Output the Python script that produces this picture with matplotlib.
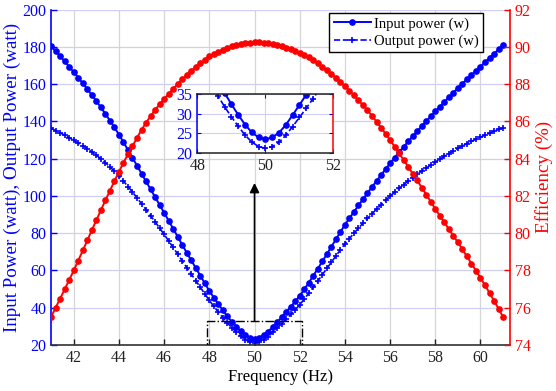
import numpy as np
import matplotlib
matplotlib.use("Agg")
import matplotlib.pyplot as plt
from matplotlib.patches import Rectangle

plt.rcParams['font.family'] = ['Liberation Serif', 'DejaVu Serif']
plt.rcParams['font.size'] = 11.5

# frequency sweep, 0.2 Hz steps
freq = np.round(np.arange(41.0, 61.0001, 0.2), 1)

input_power = [
    180.50, 177.80, 175.05, 172.25, 169.40, 166.50, 163.55, 160.50, 157.40, 154.25,
    151.00, 147.60, 144.10, 140.50, 136.80, 133.00, 128.90, 124.70, 120.50, 116.25,
    112.00, 107.80, 103.60, 99.40, 95.20, 91.00, 86.70, 82.40, 78.10, 73.80,
    69.50, 65.40, 61.30, 57.20, 53.10, 49.00, 45.40, 41.90, 38.50, 35.30,
    32.40, 29.70, 27.20, 25.20, 23.90, 23.40, 23.90, 25.10, 27.10, 29.60,
    32.20, 34.80, 37.60, 40.40, 43.30, 46.30, 49.80, 53.40, 57.10, 60.90,
    64.80, 68.75, 72.70, 76.65, 80.60, 84.50, 88.00, 91.45, 94.90, 98.25,
    101.50, 104.80, 108.05, 111.25, 114.40, 117.50, 120.55, 123.50, 126.40, 129.25,
    132.00, 134.75, 137.45, 140.10, 142.75, 145.40, 147.95, 150.50, 153.00, 155.50,
    158.00, 160.35, 162.70, 165.00, 167.25, 169.50, 171.80, 174.10, 176.40, 178.70,
    181.00,
]

output_power = [
    136.28, 135.13, 133.90, 132.62, 131.27, 129.87, 128.44, 126.91, 125.31, 123.65,
    121.86, 119.90, 117.82, 115.60, 113.27, 110.79, 107.99, 105.05, 102.04, 98.95,
    95.82, 92.63, 89.40, 86.10, 82.75, 79.35, 75.85, 72.31, 68.74, 65.14,
    61.51, 58.02, 54.51, 50.98, 47.43, 43.86, 40.69, 37.61, 34.60, 31.76,
    29.18, 26.77, 24.53, 22.73, 21.57, 21.12, 21.57, 22.65, 24.44, 26.68,
    29.01, 31.33, 33.82, 36.31, 38.88, 41.53, 44.61, 47.76, 50.98, 54.28,
    57.64, 61.02, 64.38, 67.72, 71.03, 74.28, 77.13, 79.93, 82.70, 85.35,
    87.90, 90.44, 92.91, 95.31, 97.63, 99.88, 102.05, 104.10, 106.09, 108.01,
    109.82, 111.61, 113.33, 114.98, 116.61, 118.21, 119.75, 121.27, 122.74, 124.18,
    125.61, 126.88, 128.13, 129.31, 130.44, 131.53, 132.63, 133.69, 134.72, 135.71,
    136.66,
]

efficiency = [
    75.50, 76.00, 76.49, 76.99, 77.49, 78.00, 78.53, 79.07, 79.61, 80.16,
    80.70, 81.23, 81.76, 82.28, 82.80, 83.30, 83.78, 84.24, 84.68, 85.12,
    85.55, 85.93, 86.29, 86.62, 86.92, 87.20, 87.48, 87.75, 88.01, 88.26,
    88.50, 88.72, 88.93, 89.13, 89.32, 89.50, 89.63, 89.75, 89.86, 89.96,
    90.05, 90.12, 90.17, 90.21, 90.24, 90.25, 90.25, 90.23, 90.20, 90.15,
    90.10, 90.03, 89.96, 89.88, 89.79, 89.70, 89.57, 89.44, 89.29, 89.13,
    88.95, 88.76, 88.56, 88.35, 88.13, 87.90, 87.65, 87.40, 87.14, 86.87,
    86.60, 86.30, 85.99, 85.67, 85.34, 85.00, 84.65, 84.29, 83.93, 83.57,
    83.20, 82.83, 82.45, 82.07, 81.69, 81.30, 80.94, 80.58, 80.22, 79.86,
    79.50, 79.13, 78.75, 78.37, 77.99, 77.60, 77.20, 76.79, 76.37, 75.94,
    75.50,
]

blue = '#0000ff'
red = '#ff0000'

fig = plt.figure(figsize=(5.56, 3.91), dpi=100)
ax = fig.add_axes([0.092, 0.118, 0.825, 0.857])
ax2 = ax.twinx()

# power curves (left axis)
l_in, = ax.plot(freq, input_power, '-o', color=blue, lw=1.4, ms=3.8,
                label='Input power (w)')
l_out, = ax.plot(freq, output_power, '--+', color=blue, lw=1.2, ms=4.5,
                 mew=1.2, label='Output power (w)')
ax.set_xlim(41, 61.3)
ax.set_ylim(20, 200)
ax.set_xticks(np.arange(42, 61, 2))
ax.set_yticks(np.arange(20, 201, 20))
ax.grid(axis='x', color='#d6d6d6', lw=0.9)
ax.grid(axis='y', color='#cfcff2', lw=0.9)
ax.set_axisbelow(True)

# efficiency (right axis)
ax2.plot(freq, efficiency, '-o', color=red, lw=1.4, ms=3.8)
ax2.set_ylim(74, 92)
ax2.set_yticks(np.arange(74, 93, 2))

for a in (ax, ax2):
    a.spines['top'].set_visible(False)
    a.tick_params(direction='in', length=4, width=1)
ax.spines['left'].set_color(blue)
ax.spines['left'].set_linewidth(1.2)
ax.spines['bottom'].set_color('#333333')
ax.spines['bottom'].set_linewidth(1.2)
ax.spines['right'].set_visible(False)
ax2.spines['left'].set_visible(False)
ax2.spines['bottom'].set_visible(False)
ax2.spines['right'].set_color(red)
ax2.spines['right'].set_linewidth(1.2)
ax.tick_params(axis='y', colors=blue)
ax.tick_params(axis='x', colors='#222222')
ax2.tick_params(axis='y', colors=red)

ax.set_xlabel('Frequency (Hz)', fontsize=12, labelpad=2)
ax.set_ylabel('Input Power (watt), Output Power (watt)', color=blue,
              fontsize=13.7, labelpad=1)
ax2.set_ylabel('Efficiency (%)', color=red, fontsize=13.7, labelpad=3)

# zoom box and arrow
ax.add_patch(Rectangle((47.9, 20), 4.2, 13, fill=False, ls='-.',
                       lw=1.0, ec='black', zorder=5))
ax.annotate('', xy=(50, 107), xytext=(50, 33),
            arrowprops=dict(arrowstyle='-|>', color='black', lw=1.2,
                            mutation_scale=14, shrinkA=0, shrinkB=0))

leg = ax2.legend(handles=[l_in, l_out], loc='upper left',
                 bbox_to_anchor=(0.592, 0.967), bbox_transform=fig.transFigure,
                 fontsize=10.5, frameon=True, fancybox=False, framealpha=1,
                 edgecolor='black', handlelength=2.6, handletextpad=0.15,
                 borderpad=0.3, labelspacing=0.25, borderaxespad=0)
leg.get_frame().set_linewidth(1.0)

# inset
axin = fig.add_axes([0.355, 0.6095, 0.2446, 0.150])
axin.plot(freq, input_power, '-o', color=blue, lw=1.4, ms=3.8)
axin.plot(freq, output_power, '--+', color=blue, lw=1.2, ms=4.5, mew=1.2)
axin.set_xlim(48, 52)
axin.set_ylim(20, 35)
axin.set_xticks([48, 50, 52])
axin.set_yticks([20, 25, 30, 35])
axin.grid(axis='x', color='#d6d6d6', lw=0.8)
axin.grid(axis='y', color='#cfcff2', lw=0.8)
axin.tick_params(direction='in', length=3, top=True, right=True)
axin.tick_params(axis='y', colors=blue)
axin.tick_params(axis='x', colors='#222222')
axin.spines['left'].set_color(blue)
axin.spines['right'].set_color(red)
axin.spines['top'].set_color('#222222')
axin.spines['bottom'].set_color('#222222')
for s in axin.spines.values():
    s.set_linewidth(1.1)

fig.savefig('out.png', dpi=100)
